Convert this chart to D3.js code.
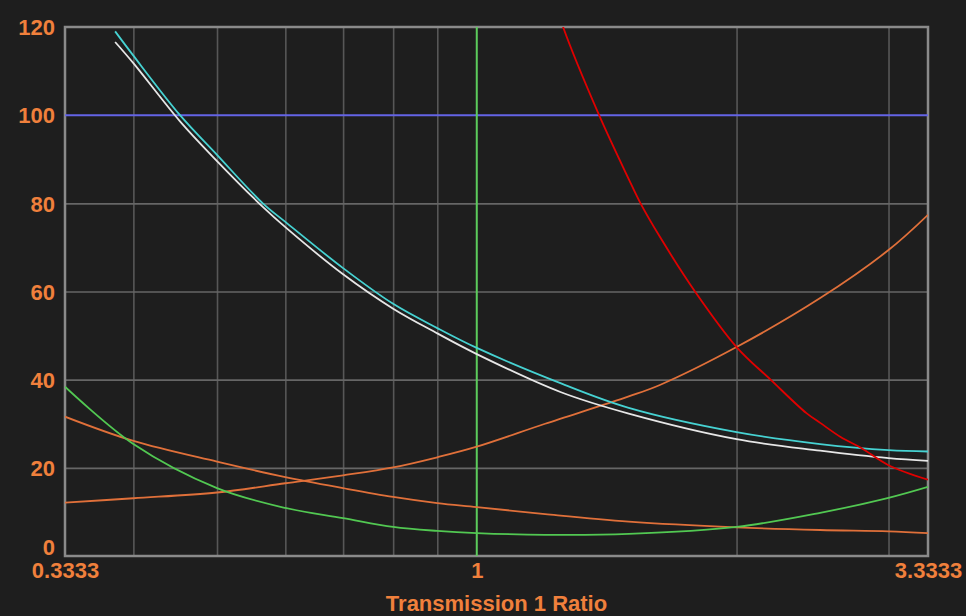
<!DOCTYPE html>
<html>
<head>
<meta charset="utf-8">
<script src="https://cdn.jsdelivr.net/npm/d3@7"></script>
<style>
  html, body { margin: 0; padding: 0; background: #1e1e1e; }
  .tick text { font-family: "Liberation Sans", Arial, sans-serif; font-weight: bold; }
</style>
</head>
<body>
<div id="chart"></div>
<script>
// tick values and labels
var xLabelTicks = [0.3333, 1, 3.3333];
var xLabelText = ["0.3333", "1", "3.3333"];
var xGridTicks = [0.4, 0.5, 0.6, 0.7, 0.8, 0.9, 2, 3];
var yTicks = [0, 20, 40, 60, 80, 100, 120];
var refY = 100;   // blue level line
var refX = 1;     // green ratio line

// series
var cyanX  = [0.381, 0.4, 0.453, 0.5, 0.565, 0.6, 0.7, 0.8, 0.9, 1, 1.25, 1.5, 2, 2.5, 3, 3.3333];
var cyanY  = [119, 113.5, 100, 91, 80, 75.8, 65.3, 57.2, 51.7, 47.2, 39.2, 33.6, 28.1, 25.4, 24.0, 23.7];
var whiteY = [116.6, 111.8, 98.6, 89.6, 79.2, 74.6, 63.9, 56.1, 50.5, 45.8, 37.2, 32.3, 26.5, 23.9, 22.2, 21.6];

var redX = [1.25, 1.259, 1.386, 1.5, 1.548, 1.63, 1.79, 2, 2.19, 2.41, 2.5, 2.64, 2.79, 3, 3.3333];
var redY = [122, 120, 100, 85.5, 80, 72.4, 60, 47.4, 40, 32.4, 30.2, 27, 24.5, 20.6, 17.3];

var lowX     = [0.3333, 0.4, 0.5, 0.6, 0.7, 0.8, 0.9, 1, 1.2, 1.5, 2, 2.5, 3, 3.3333];
var greenY   = [38.4, 25.4, 15.4, 10.9, 8.6, 6.6, 5.7, 5.2, 4.8, 5.0, 6.6, 9.8, 13.2, 15.7];
var orangeDn = [31.6, 26.1, 21.4, 17.9, 15.4, 13.4, 12.0, 11.1, 9.5, 7.8, 6.5, 5.9, 5.6, 5.2];

var riseX    = [0.3333, 0.4, 0.5, 0.6, 0.7, 0.8, 0.9, 1, 1.2, 1.5, 1.63, 2, 2.5, 3, 3.3333];
var orangeUp = [12.1, 13.1, 14.4, 16.5, 18.3, 20.1, 22.4, 24.8, 30.0, 36.2, 38.8, 47.4, 58.5, 69.4, 77.4];

var W = 966, H = 616;
var mLeft = 65, mRight = 928, mTop = 27, mBottom = 556;
var labelColor = "#f0803c";

var svg = d3.select("#chart").append("svg")
    .attr("width", W)
    .attr("height", H)
    .style("display", "block");

svg.append("rect").attr("width", W).attr("height", H).attr("fill", "#1e1e1e");

var x = d3.scaleLog().domain([0.3333, 3.3333]).range([mLeft, mRight]);
var y = d3.scaleLinear().domain([0, 120]).range([mBottom, mTop]);

svg.append("defs").append("clipPath").attr("id", "plot-clip")
    .append("rect")
    .attr("x", mLeft).attr("y", mTop)
    .attr("width", mRight - mLeft).attr("height", mBottom - mTop);

// grid
var gx = svg.append("g")
    .attr("transform", "translate(0," + mBottom + ")")
    .call(d3.axisBottom(x).tickValues(xGridTicks).tickSize(-(mBottom - mTop)).tickFormat(""));
gx.select(".domain").remove();
gx.selectAll("line").attr("stroke", "#575757").attr("stroke-width", 1.6);

var gy = svg.append("g")
    .attr("transform", "translate(" + mLeft + ",0)")
    .call(d3.axisLeft(y).tickValues([20, 40, 60, 80]).tickSize(-(mRight - mLeft)).tickFormat(""));
gy.select(".domain").remove();
gy.selectAll("line").attr("stroke", "#666").attr("stroke-width", 1.6);

// frame
svg.append("rect")
    .attr("x", mLeft).attr("y", mTop)
    .attr("width", mRight - mLeft).attr("height", mBottom - mTop)
    .attr("fill", "none")
    .attr("stroke", "#8a8a8a")
    .attr("stroke-width", 2.5);

var plot = svg.append("g").attr("clip-path", "url(#plot-clip)");

// reference lines
plot.append("line")
    .attr("x1", mLeft).attr("x2", mRight)
    .attr("y1", y(refY)).attr("y2", y(refY))
    .attr("stroke", "#6464e6").attr("stroke-width", 2);

plot.append("line")
    .attr("x1", x(refX)).attr("x2", x(refX))
    .attr("y1", mTop).attr("y2", mBottom)
    .attr("stroke", "#5ccc5c").attr("stroke-width", 2);

var line = d3.line()
    .x(function(d) { return x(d[0]); })
    .y(function(d) { return y(d[1]); })
    .curve(d3.curveCatmullRom.alpha(0.5));

function zipXY(xs, ys) {
    return xs.map(function(v, i) { return [v, ys[i]]; });
}

var series = [
    { xs: lowX,  ys: orangeDn, color: "#e0703a" },
    { xs: riseX, ys: orangeUp, color: "#e0703a" },
    { xs: lowX,  ys: greenY,   color: "#52c852" },
    { xs: cyanX, ys: whiteY,   color: "#e6e6e6" },
    { xs: cyanX, ys: cyanY,    color: "#46d2d2" },
    { xs: redX,  ys: redY,     color: "#e00000" }
];

series.forEach(function(s) {
    plot.append("path")
        .datum(zipXY(s.xs, s.ys))
        .attr("fill", "none")
        .attr("stroke", s.color)
        .attr("stroke-width", 1.8)
        .attr("d", line);
});

// y axis labels
var ay = svg.append("g")
    .attr("transform", "translate(" + (mLeft - 10) + ",0)")
    .call(d3.axisLeft(y).tickValues(yTicks).tickSize(0).tickPadding(0));
ay.select(".domain").remove();
ay.selectAll("text")
    .attr("fill", labelColor)
    .style("font-size", "22px")
    .attr("dy", "0.35em")
    .attr("y", function(d) { return d === 0 ? -9 : 0; });

// x axis labels
var ax = svg.append("g")
    .attr("transform", "translate(0," + mBottom + ")")
    .call(d3.axisBottom(x).tickValues(xLabelTicks).tickSize(0).tickPadding(6)
        .tickFormat(function(d, i) { return xLabelText[i]; }));
ax.select(".domain").remove();
ax.selectAll("text")
    .attr("fill", labelColor)
    .style("font-size", "22px");

svg.append("text")
    .attr("x", (mLeft + mRight) / 2)
    .attr("y", 611)
    .attr("text-anchor", "middle")
    .attr("fill", labelColor)
    .style("font-family", "'Liberation Sans', Arial, sans-serif")
    .style("font-weight", "bold")
    .style("font-size", "22px")
    .text("Transmission 1 Ratio");
</script>
</body>
</html>
